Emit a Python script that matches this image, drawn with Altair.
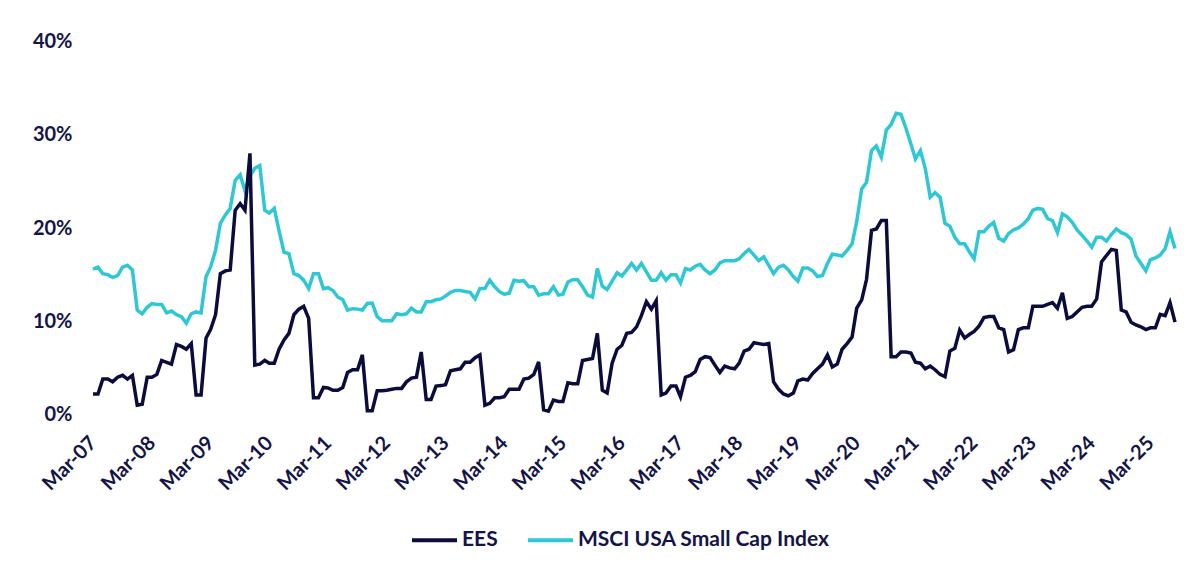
import altair as alt
import pandas as pd

# Monthly observations, Mar-2007 .. Aug-2025
start_month = "2007-03-01"

ees = [
    2.2, 2.2, 3.8, 3.8, 3.5, 4.0, 4.2, 3.8, 4.2, 1.0,
    1.1, 4.0, 4.0, 4.3, 5.8, 5.6, 5.4, 7.5, 7.3, 7.0,
    7.6, 2.1, 2.1, 8.2, 9.1, 10.7, 15.1, 15.4, 15.5, 21.9,
    22.6, 21.9, 28.0, 5.3, 5.4, 5.8, 5.5, 5.5, 7.0, 8.0,
    8.7, 10.7, 11.3, 11.6, 10.3, 1.8, 1.8, 2.9, 2.85, 2.6,
    2.6, 2.9, 4.5, 4.8, 4.8, 6.4, 0.4, 0.4, 2.55, 2.55,
    2.6, 2.7, 2.8, 2.8, 3.5, 3.9, 4.0, 6.7, 1.6, 1.6,
    3.05, 3.1, 3.2, 4.7, 4.8, 4.9, 5.6, 5.6, 6.1, 6.4,
    1.0, 1.2, 1.8, 1.8, 1.9, 2.7, 2.7, 2.7, 3.8, 3.9,
    4.3, 5.65, 0.5, 0.35, 1.55, 1.4, 1.4, 3.4, 3.3, 3.3,
    5.8, 5.9, 6.0, 8.7, 2.6, 2.3, 5.5, 7.0, 7.4, 8.7,
    8.8, 9.4, 10.6, 12.1, 11.3, 12.2, 2.1, 2.3, 3.05, 3.05,
    1.9, 4.0, 4.2, 4.6, 5.9, 6.2, 6.1, 5.3, 4.5, 5.2,
    5.0, 4.9, 5.5, 6.8, 7.0, 7.7, 7.6, 7.5, 7.6, 3.5,
    2.7, 2.2, 2.0, 2.3, 3.6, 3.8, 3.7, 4.4, 4.9, 5.4,
    6.4, 5.1, 5.4, 7.0, 7.6, 8.3, 11.4, 12.3, 14.5, 19.75,
    19.9, 20.8, 20.8, 6.2, 6.2, 6.7, 6.7, 6.6, 5.6, 5.5,
    4.9, 5.2, 4.8, 4.3, 4.05, 6.8, 7.1, 9.05, 8.2, 8.6,
    8.9, 9.5, 10.4, 10.5, 10.5, 9.3, 9.1, 6.7, 6.95, 9.1,
    9.3, 9.3, 11.6, 11.6, 11.6, 11.8, 12.0, 11.4, 13.05, 10.3,
    10.5, 11.0, 11.5, 11.6, 11.6, 12.4, 16.35, 17.05, 17.7, 17.6,
    11.2, 11.0, 9.9, 9.6, 9.4, 9.1, 9.3, 9.3, 10.75, 10.6,
    12.0, 9.9,
]

msci = [
    15.6, 15.8, 15.1, 15.0, 14.7, 14.9, 15.8, 16.0, 15.5, 11.2,
    10.8, 11.5, 11.9, 11.8, 11.8, 10.9, 11.1, 10.7, 10.5, 9.8,
    10.8, 11.0, 10.9, 14.8, 15.8, 17.6, 20.5, 21.4, 22.1, 25.1,
    25.7, 24.0, 25.6, 26.4, 26.7, 21.9, 21.6, 22.1, 19.7, 17.4,
    17.25, 15.1, 14.9, 14.4, 13.5, 15.1, 15.1, 13.5, 13.6, 13.3,
    12.6, 12.3, 11.2, 11.35, 11.3, 11.2, 11.9, 11.95, 10.5, 10.05,
    10.05, 10.05, 10.8, 10.7, 10.8, 11.4, 11.0, 11.0, 12.1, 12.1,
    12.3, 12.4, 12.7, 13.1, 13.3, 13.3, 13.2, 13.1, 12.4, 13.5,
    13.5, 14.4, 13.7, 13.15, 12.9, 13.0, 14.4, 14.3, 14.35, 13.7,
    13.7, 12.8, 12.95, 12.95, 13.7, 12.8, 12.9, 14.2, 14.45, 14.45,
    13.7, 12.8, 12.6, 15.65, 13.75, 13.4, 14.3, 15.2, 14.85, 15.5,
    16.2, 15.5, 16.2, 15.3, 14.4, 14.4, 15.2, 14.4, 15.0, 15.0,
    14.1, 15.65, 15.5, 15.9, 16.1, 15.5, 15.1, 15.5, 16.25, 16.5,
    16.5, 16.5, 16.7, 17.25, 17.7, 17.1, 16.5, 16.9, 16.0, 15.1,
    15.8, 16.0, 15.5, 14.8, 14.3, 15.7, 15.7, 15.4, 14.8, 14.9,
    16.2, 17.2, 17.1, 17.0, 17.6, 18.3, 20.7, 24.2, 24.9, 28.3,
    28.8, 27.6, 30.5, 31.1, 32.3, 32.2, 30.7, 29.0, 27.4, 28.3,
    26.4, 23.3, 23.8, 23.3, 20.5, 20.2, 19.0, 18.3, 18.3, 17.4,
    16.7, 19.6, 19.6, 20.2, 20.6, 18.9, 18.6, 19.4, 19.8, 20.0,
    20.4, 21.0, 21.9, 22.1, 22.0, 21.0, 20.8, 19.5, 21.5, 21.2,
    20.6, 19.8, 19.2, 18.6, 17.95, 19.0, 19.0, 18.6, 19.3, 19.9,
    19.5, 19.3, 18.8, 17.0, 16.2, 15.4, 16.6, 16.8, 17.1, 17.8,
    19.6, 17.8,
]

series_names = ["EES", "MSCI USA Small Cap Index"]
series_colors = ["#0c0c3c", "#2ec7d3"]
tick_years = list(range(2007, 2026))
y_ticks = [0, 0.1, 0.2, 0.3, 0.4]

dates = pd.date_range(start_month, periods=len(ees), freq="MS")
df = pd.concat([
    pd.DataFrame({"date": dates.strftime("%Y-%m-%d"), "value": [v / 100 for v in ees], "series": series_names[0]}),
    pd.DataFrame({"date": dates.strftime("%Y-%m-%d"), "value": [v / 100 for v in msci], "series": series_names[1]}),
])

FONT = "Lato"
TEXT = "#141446"

x_enc = alt.X(
    "date:T",
    scale=alt.Scale(
        type="utc",
        domain=[alt.DateTime(year=2007, month=3, date=1, utc=True),
                alt.DateTime(year=2025, month=8, date=1, utc=True)],
        nice=False,
    ),
    axis=alt.Axis(
        values=[alt.DateTime(year=y, month=3, date=1, utc=True) for y in tick_years],
        labelExpr="utcFormat(datum.value, '%b-%y')",
        labelAngle=-45, labelAlign="right", labelBaseline="middle",
        labelPadding=25, ticks=False, tickSize=0, domain=False, grid=False,
        title=None, labelFont=FONT, labelFontSize=20, labelFontWeight="bold",
        labelColor=TEXT, labelOverlap=False, labelBound=False, labelFlush=False,
    ),
)
y_enc = alt.Y(
    "value:Q",
    scale=alt.Scale(domain=[0, 0.4], nice=False),
    axis=alt.Axis(
        values=y_ticks, format=".0%", ticks=False, tickSize=0, domain=False, grid=False,
        title=None, labelPadding=21, labelFont=FONT, labelFontSize=20,
        labelFontWeight="bold", labelColor=TEXT,
    ),
)
color_enc = alt.Color(
    "series:N",
    scale=alt.Scale(domain=series_names, range=series_colors),
    legend=alt.Legend(
        title=None, orient="none", legendX=317, legendY=474, direction="horizontal",
        symbolType="stroke", symbolSize=2025, symbolStrokeWidth=4,
        labelFont=FONT, labelFontSize=21, labelFontWeight="bold", labelColor=TEXT,
        labelOffset=3, columnPadding=22, labelLimit=0,
    ),
)

base = alt.Chart(df).encode(x=x_enc, y=y_enc, color=color_enc)
cyan = base.transform_filter(alt.datum.series == series_names[1]).mark_line(strokeWidth=3.5)
dark = base.transform_filter(alt.datum.series == series_names[0]).mark_line(strokeWidth=3.5)

chart = alt.layer(cyan, dark).properties(
    width=1082, height=373,
    padding={"left": 85, "top": 33.5, "right": 17, "bottom": 150},
    autosize=alt.AutoSizeParams(type="none"),
    background="white",
).configure_view(stroke=None)

chart.save("out.html", embed_options={"renderer": "svg", "actions": False})
